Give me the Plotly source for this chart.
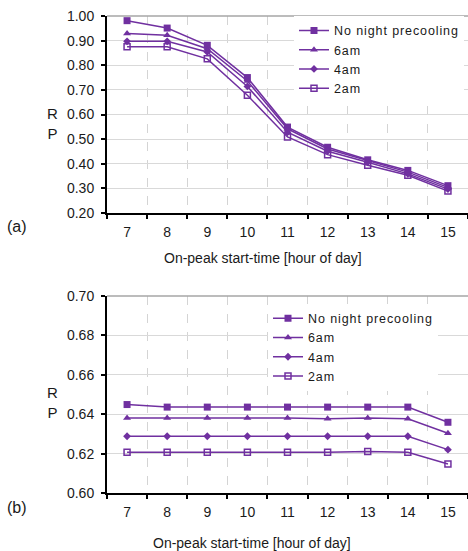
import plotly.graph_objects as go

hours = [7, 8, 9, 10, 11, 12, 13, 14, 15]
series_names = ["No night precooling", "6am", "4am", "2am"]

# Panel (a)
a_none = [0.981, 0.951, 0.881, 0.750, 0.549, 0.467, 0.416, 0.373, 0.311]
a_6am = [0.929, 0.922, 0.867, 0.736, 0.542, 0.460, 0.413, 0.366, 0.304]
a_4am = [0.897, 0.897, 0.854, 0.714, 0.528, 0.451, 0.406, 0.359, 0.297]
a_2am = [0.875, 0.875, 0.826, 0.678, 0.509, 0.437, 0.394, 0.353, 0.289]

# Panel (b)
b_none = [0.6449, 0.6436, 0.6436, 0.6436, 0.6436, 0.6436, 0.6436, 0.6436, 0.6359]
b_6am = [0.6381, 0.6381, 0.6381, 0.6381, 0.6381, 0.6377, 0.6381, 0.6377, 0.6303]
b_4am = [0.6288, 0.6288, 0.6288, 0.6288, 0.6288, 0.6288, 0.6288, 0.6288, 0.6220]
b_2am = [0.6207, 0.6207, 0.6207, 0.6207, 0.6207, 0.6207, 0.6211, 0.6207, 0.6147]

a_ticks = [0.20, 0.30, 0.40, 0.50, 0.60, 0.70, 0.80, 0.90, 1.00]
b_ticks = [0.60, 0.62, 0.64, 0.66, 0.68, 0.70]
boundaries = [6.5, 7.5, 8.5, 9.5, 10.5, 11.5, 12.5, 13.5, 14.5, 15.5]

x_title = "On-peak start-time [hour of day]"
y_label = "R<br>P"

PURPLE = "#7030A0"
FONT = "Liberation Sans, Arial, sans-serif"
TXT = "#1a1a1a"

marker_styles = [
    dict(symbol="square", size=7, color=PURPLE),
    dict(symbol="triangle-up", size=7, color=PURPLE),
    dict(symbol="diamond", size=6, color=PURPLE),
    dict(symbol="square-open", size=6, color=PURPLE, line=dict(width=1.5, color=PURPLE)),
]

def spaced(name):
    return '<span style="letter-spacing:0.9px">' + name + '</span>'

fig = go.Figure()

for name, vals, mk in zip(series_names, [a_none, a_6am, a_4am, a_2am], marker_styles):
    fig.add_trace(go.Scatter(
        x=hours, y=vals, name=spaced(name), mode="lines+markers",
        line=dict(color=PURPLE, width=1.5), marker=mk,
        xaxis="x", yaxis="y", legend="legend",
    ))

for name, vals, mk in zip(series_names, [b_none, b_6am, b_4am, b_2am], marker_styles):
    fig.add_trace(go.Scatter(
        x=hours, y=vals, name=spaced(name), mode="lines+markers",
        line=dict(color=PURPLE, width=1.5), marker=mk,
        xaxis="x2", yaxis="y2", legend="legend2",
    ))

def xaxis_cfg(anchor):
    return dict(
        anchor=anchor, domain=[0, 1], range=[6.5, 15.5],
        tickmode="array", tickvals=hours, ticktext=[str(h) for h in hours],
        ticks="", showgrid=False, zeroline=False,
        showline=True, linecolor="black", linewidth=2,
        tickfont=dict(family=FONT, size=14, color=TXT),
        ticklabelstandoff=5,
        minor=dict(tickmode="array", tickvals=boundaries, ticks="outside", ticklen=4,
                   tickwidth=1.5, tickcolor="black",
                   showgrid=True, gridcolor="#d4d4d4", griddash="dash", gridwidth=1),
    )

def yaxis_cfg(anchor, dom, rng, tv, fmt):
    return dict(
        anchor=anchor, domain=dom, range=rng,
        tickmode="array", tickvals=tv, ticktext=[fmt.format(v) for v in tv],
        ticks="outside", ticklen=4, tickwidth=1.5, tickcolor="black",
        showgrid=True, gridcolor="#d9d9d9", gridwidth=1, zeroline=False,
        showline=True, linecolor="black", linewidth=2,
        tickfont=dict(family=FONT, size=14, color=TXT),
        ticklabelstandoff=4,
    )

fig.update_layout(
    width=468, height=551,
    margin=dict(l=107, r=0, t=16, b=58),
    paper_bgcolor="white", plot_bgcolor="white",
    font=dict(family=FONT, size=14, color=TXT),
    xaxis=xaxis_cfg("y"),
    yaxis=yaxis_cfg("x", [0.587, 1.0], [0.20, 1.00], a_ticks, "{:.2f}"),
    xaxis2=xaxis_cfg("y2"),
    yaxis2=yaxis_cfg("x2", [0.0, 0.413], [0.60, 0.70], b_ticks, "{:.2f}"),
    legend=dict(x=0.518, y=1.0005, xanchor="left", yanchor="top",
                bgcolor="white", borderwidth=0, itemwidth=30,
                font=dict(family=FONT, size=12.5, color=TXT),
                tracegroupgap=0),
    legend2=dict(x=0.446, y=0.397, xanchor="left", yanchor="top",
                 bgcolor="white", borderwidth=0, itemwidth=30,
                 font=dict(family=FONT, size=12.5, color=TXT),
                 tracegroupgap=0),
    showlegend=True,
)

# top border lines of the plot areas
fig.add_shape(type="line", xref="x domain", yref="y domain", x0=0, x1=1, y0=1, y1=1,
              line=dict(color="#a6a6a6", width=1.5))
fig.add_shape(type="line", xref="x2 domain", yref="y2 domain", x0=0, x1=1, y0=1, y1=1,
              line=dict(color="#a6a6a6", width=1.5))

ph = 551 - 16 - 58
def py(pix):
    return (493 - pix) / ph
def px(pix):
    return (pix - 107) / 361

def ann(text, x, y, size):
    fig.add_annotation(text=text, xref="paper", yref="paper", x=px(x), y=py(y),
                       xanchor="center", yanchor="middle", showarrow=False,
                       font=dict(family=FONT, size=size, color=TXT))

ann(x_title, 263, 258, 14)
ann(x_title, 252, 543, 14)
ann(y_label, 52, 123, 15)
ann(y_label, 52, 402, 15)
ann("(a)", 17, 226, 16)
ann("(b)", 17, 507, 16)

fig.write_html("out.html", config={"displayModeBar": False},
               post_script="document.body.style.margin='0';")
